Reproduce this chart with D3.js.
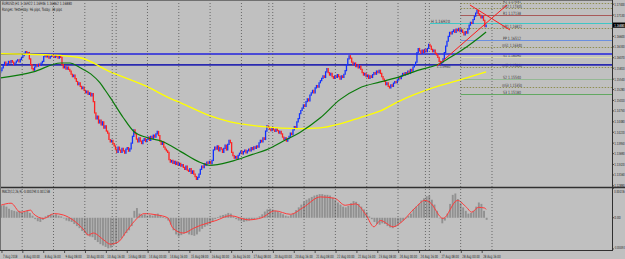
<!DOCTYPE html>
<html><head><meta charset="utf-8">
<script src="https://cdn.jsdelivr.net/npm/d3@7"></script>
<style>
html,body{margin:0;padding:0;background:#c0c0c0;overflow:hidden}
svg{display:block}
text{font-family:"DejaVu Sans",sans-serif}
</style>
</head><body><svg id="c" width="625" height="259"></svg>
<script>
// ---------- DATA ----------
const closes = [
1.1575,1.1582,1.1590,1.1596,1.1588,1.1592,1.1598,1.1594,1.1600,1.1596,1.1590,1.1594,1.1599,1.1602,1.1597,1.1603,1.1608,
1.1612,1.1618,1.1622,1.1616,1.1620,1.1604,1.1590,1.1580,1.1576,1.1584,1.1590,1.1586,1.1591,1.1588,1.1594,1.1598,1.1610,1.1614,
1.1609,1.1612,1.1606,1.1610,1.1615,1.1611,1.1608,1.1613,1.1610,1.1606,1.1611,1.1608,1.1590,1.1582,1.1586,1.1579,1.1584,1.1578,
1.1574,1.1566,1.1560,1.1564,1.1555,1.1548,1.1540,1.1545,1.1536,1.1530,1.1534,1.1526,1.1520,1.1524,1.1516,1.1520,1.1512,1.1518,
1.1498,1.1470,1.1455,1.1462,1.1445,1.1452,1.1440,1.1448,1.1432,1.1438,1.1425,1.1420,1.1404,1.1398,1.1402,1.1394,1.1388,1.1380,
1.1372,1.1385,1.1378,1.1372,1.1382,1.1376,1.1370,1.1380,1.1384,1.1375,1.1381,1.1395,1.1412,1.1428,1.1418,1.1405,1.1398,1.1408,
1.1400,1.1394,1.1402,1.1406,1.1399,1.1404,1.1410,1.1402,1.1412,1.1406,1.1415,1.1410,1.1418,1.1424,1.1414,1.1400,1.1392,1.1398,
1.1385,1.1380,1.1376,1.1372,1.1354,1.1348,1.1352,1.1345,1.1350,1.1342,1.1348,1.1340,1.1345,1.1338,1.1342,1.1335,1.1330,1.1338,
1.1328,1.1325,1.1332,1.1320,1.1326,1.1318,1.1312,1.1305,1.1310,1.1318,1.1330,1.1338,1.1334,1.1344,1.1340,1.1348,1.1345,1.1350,
1.1344,1.1352,1.1378,1.1385,1.1380,1.1388,1.1376,1.1384,1.1380,1.1372,1.1382,1.1390,1.1378,1.1392,1.1402,1.1396,1.1372,1.1364,
1.1358,1.1362,1.1356,1.1365,1.1370,1.1375,1.1368,1.1374,1.1378,1.1371,1.1376,1.1380,1.1376,1.1384,1.1379,1.1386,1.1382,1.1388,
1.1385,1.1396,1.1402,1.1398,1.1408,1.1404,1.1425,1.1438,1.1434,1.1430,1.1426,1.1432,1.1428,1.1424,1.1430,1.1426,1.1420,1.1424,
1.1418,1.1410,1.1404,1.1408,1.1400,1.1406,1.1412,1.1420,1.1416,1.1428,1.1436,1.1432,1.1448,1.1456,1.1468,1.1476,1.1482,1.1490,
1.1486,1.1498,1.1505,1.1500,1.1514,1.1520,1.1526,1.1520,1.1532,1.1538,1.1534,1.1545,1.1550,1.1556,1.1562,1.1558,1.1572,1.1580,
1.1570,1.1564,1.1568,1.1560,1.1556,1.1562,1.1558,1.1565,1.1560,1.1554,1.1562,1.1558,1.1566,1.1575,1.1590,1.1604,1.1612,1.1606,
1.1596,1.1590,1.1594,1.1585,1.1590,1.1582,1.1586,1.1578,1.1570,1.1564,1.1568,1.1560,1.1564,1.1556,1.1562,1.1558,1.1565,1.1570,
1.1566,1.1574,1.1570,1.1576,1.1568,1.1560,1.1554,1.1548,1.1540,1.1545,1.1536,1.1532,1.1540,1.1536,1.1544,1.1548,1.1545,1.1552,
1.1558,1.1555,1.1562,1.1568,1.1564,1.1570,1.1566,1.1574,1.1568,1.1578,1.1574,1.1584,1.1590,1.1596,1.1620,1.1630,1.1624,1.1618,
1.1626,1.1620,1.1628,1.1622,1.1630,1.1640,1.1636,1.1628,1.1622,1.1626,1.1618,1.1614,1.1608,1.1598,1.1592,1.1596,1.1604,1.1620,
1.1636,1.1648,1.1660,1.1670,1.1666,1.1672,1.1676,1.1670,1.1678,1.1674,1.1680,1.1672,1.1676,1.1670,1.1664,1.1672,1.1668,1.1678,
1.1688,1.1695,1.1692,1.1702,1.1710,1.1718,1.1725,1.1716,1.1712,1.1706,1.1710,1.1700,1.1684,1.1688
];
const firstOpen = 1.1570;

const greenBars = [0,25,46,53,61,69,76,80,84,94,102,112,124,138,153,160,176,193,204,219,229,245,260,275,291,306,321,334,344,357,367,372];
const greenVals = [1.1557,1.1572,1.1594,1.1594,1.1582,1.1567,1.1545,1.1527,1.1508,1.1458,1.1424,1.1409,1.1399,1.1374,1.1347,1.1340,
                   1.1349,1.1367,1.1379,1.1404,1.1421,1.1458,1.1503,1.1532,1.1547,1.1560,1.1577,1.1589,1.1607,1.1634,1.1658,1.1671];
const yellowBars = [0,38,61,84,111,132,138,158,176,201,229,245,260,275,291,306,331,352,372];
const yellowVals = [1.1617,1.1614,1.1607,1.1572,1.1537,1.1503,1.1495,1.1466,1.1448,1.1436,1.1431,1.1433,1.1443,1.1458,1.1475,1.1500,1.1532,1.1552,1.1572];

// MACD main (histogram), one value per pair of hourly bars
const macdHist = [
0.0017,0.0018,0.0016,0.0013,0.0011,0.0010,0.0009,0.0010,0.0008,0.0009,0.0010,0.0007,0.0003,-0.0002,-0.0005,-0.0006,-0.0003,0.0002,
0.0004,0.0005,0.0004,0.0005,0.0003,0.0002,-0.0001,-0.0004,-0.0005,-0.0006,-0.0009,-0.0012,-0.0015,-0.0019,-0.0022,-0.0025,-0.0027,
-0.0028,-0.0032,-0.0035,-0.0038,-0.0040,-0.0042,-0.0044,-0.0043,-0.0040,-0.0037,-0.0034,-0.0030,-0.0026,-0.0022,-0.0018,-0.0012,
0.0010,0.0014,0.0006,0.0004,0.0005,0.0003,0.0004,0.0003,0.0005,0.0006,0.0004,0.0001,-0.0001,-0.0004,-0.0010,-0.0018,-0.0024,-0.0027,
-0.0025,-0.0023,-0.0022,-0.0024,-0.0025,-0.0026,-0.0024,-0.0020,-0.0016,-0.0013,-0.0011,-0.0009,-0.0006,-0.0002,0.0001,0.0003,0.0004,
0.0005,0.0007,0.0006,0.0002,-0.0002,-0.0004,-0.0005,-0.0006,-0.0005,-0.0004,-0.0003,-0.0002,-0.0001,0.0002,0.0005,0.0009,0.0012,
0.0013,0.0012,0.0010,0.0009,0.0007,0.0005,0.0003,0.0002,0.0004,0.0007,0.0011,0.0015,0.0019,0.0023,0.0026,0.0028,0.0030,0.0032,
0.0033,0.0034,0.0034,0.0033,0.0033,0.0032,0.0029,0.0026,0.0022,0.0019,0.0016,0.0015,0.0017,0.0021,0.0024,0.0023,0.0020,0.0016,
0.0012,0.0008,0.0002,-0.0002,-0.0006,-0.0009,-0.0010,-0.0008,-0.0009,-0.0012,-0.0014,-0.0015,-0.0013,-0.0010,-0.0007,-0.0004,
-0.0001,0.0003,0.0006,0.0012,0.0016,0.0020,0.0025,0.0028,0.0031,0.0032,0.0026,0.0019,0.0010,0.0000,-0.0008,-0.0004,0.0006,0.0020,
0.0033,0.0035,0.0027,0.0021,0.0015,0.0010,0.0006,0.0007,0.0010,0.0016,0.0022,0.0020,0.0010,-0.0003
];
const signalBars = [0,8,15,23,25,33,41,48,56,64,67,71,79,84,90,97,105,110,120,128,132,140,148,153,165,176,190,200,210,222,232,245,
                    256,264,272,280,286,291,301,306,318,325,329,339,350,357,361,366,371,372];
const signalVals = [0.0018,0.0021,0.0008,0.0011,0.0006,-0.0001,0.0006,0.0004,-0.0004,-0.0018,-0.0025,-0.0022,-0.0032,-0.0038,-0.0035,
                    -0.0018,0.0000,0.0006,0.0004,0.0000,-0.0015,-0.0022,-0.0015,-0.0011,-0.0004,0.0003,-0.0003,0.0000,0.0010,0.0005,
                    0.0015,0.0030,0.0028,0.0018,0.0020,0.0004,-0.0013,-0.0004,-0.0013,-0.0008,0.0015,0.0025,0.0022,-0.0001,0.0025,
                    0.0015,0.0008,0.0015,0.0014,0.0012];

const daySeparators = [17,41,65,86,89,113,137,161,185,206,209,233,257,281,305,326,329,353,377];
const timeBars = [1,17,33,49,65,81,97,113,129,145,161,177,193,209,225,241,257,273,289,305,321,337,353,369];
const timeLabels = ["7 Aug 2018","8 Aug 00:00","8 Aug 16:00","9 Aug 08:00","10 Aug 00:00","10 Aug 16:00","13 Aug 08:00",
  "14 Aug 00:00","14 Aug 16:00","15 Aug 08:00","16 Aug 00:00","16 Aug 16:00","17 Aug 08:00","20 Aug 00:00","20 Aug 16:00",
  "21 Aug 08:00","22 Aug 00:00","22 Aug 16:00","23 Aug 08:00","24 Aug 00:00","24 Aug 16:00","27 Aug 08:00","28 Aug 00:00","28 Aug 16:00"];
const priceTicks = [1.1740,1.1713,1.1687,1.1660,1.1634,1.1607,1.1581,1.1554,1.1528,1.1501,1.1475,1.1448,1.1422,1.1395,1.1369,1.1342,1.1316,1.1289];
const macdTicks = [0.004236,0.0,-0.004493];
const macdTickLabels = ["0.004236","0.00","-0.004493"];

const pivotNames = ["R2","mR2","R1","mR1","PP","mS1","S1","mS2","S2","mS3","S3"];
const pivotVals  = [1.17431,1.17305,1.17138,1.16812,1.16512,1.16340,1.16090,1.15840,1.15540,1.15350,1.15180];
const pivotStartBar = 353;
const blueLevels = [1.16165,1.15893];
const yHighBar = 329, yHighVal = 1.16920;
const yLowBar = 334, yLowVal = 1.15960;
const trendUp = [[334.4,1.1587],[388.0,1.1738]];
const trendDown = [[359.6,1.1738],[390.3,1.1676]];
const titleLine = "EURUSD,H1  1.16922 1.16946 1.16862 1.16880";
const rangeLine = "Ranges: Yesterday: 96 pips, Today: 38 pips";
const macdTitle = "MACD(12,26,9) -0.000294 0.001238";
const lastPrice = closes[closes.length-1];

// ---------- DRAW ----------
const svg = d3.select('#c');
const R = 612;
const xs = d3.scaleLinear().domain([0,100]).range([0.65,131.15]);
const ys = d3.scaleLinear().domain([1.12886,1.17504]).range([186,0]);
const ym = d3.scaleLinear().domain([-0.0045,0.0040]).range([249,190]);

svg.append('rect').attr('width',625).attr('height',259).attr('fill','#c0c0c0');
const defs = svg.append('defs');
defs.append('clipPath').attr('id','cm').append('rect').attr('x',0).attr('y',0).attr('width',R).attr('height',187);
defs.append('clipPath').attr('id','cd').append('rect').attr('x',0).attr('y',188).attr('width',R).attr('height',62);

const main = svg.append('g').attr('clip-path','url(#cm)');
const sub = svg.append('g').attr('clip-path','url(#cd)');

// period separators
svg.append('g').selectAll('line').data(daySeparators).join('line')
  .attr('x1',d=>xs(d)-0.65).attr('x2',d=>xs(d)-0.65).attr('y1',0).attr('y2',250)
  .attr('stroke','#505050').attr('stroke-width',0.8).attr('stroke-dasharray','1,2');

// pivot lines
const pivotStyle = n => n.startsWith('m') || n==='R2' ? {c:'#8f8f52',d:'1.5,1.5',w:1}
  : n==='R1' ? {c:'#a85a5a',d:null,w:1}
  : n==='PP' ? {c:'#6a8fe0',d:null,w:1}
  : n==='S1' ? {c:'#dcdca8',d:null,w:1}
  : n==='S2' ? {c:'#94b894',d:null,w:1.2}
  : {c:'#62a862',d:null,w:1.2};
pivotNames.forEach((n,i)=>{
  const s = pivotStyle(n), y = Math.round(ys(pivotVals[i]))+0.5;
  main.append('line').attr('x1',xs(pivotStartBar)-0.65).attr('x2',R).attr('y1',y).attr('y2',y)
    .attr('stroke',s.c).attr('stroke-width',s.w).attr('stroke-dasharray',s.d);
  main.append('text').attr('x',512).attr('y',y-1).attr('text-anchor','middle')
    .attr('font-size',4.4).attr('fill','#3a3a3a').attr('textLength',n.length>2?20:18).attr('lengthAdjust','spacingAndGlyphs')
    .text(n+' '+pivotVals[i].toFixed(5));
});
// yesterday high (cyan) and low label
{
  const y = ys(yHighVal);
  main.append('line').attr('x1',xs(yHighBar)).attr('x2',R).attr('y1',y).attr('y2',y).attr('stroke','#3ec6c6').attr('stroke-width',1.2);
  main.append('text').attr('x',xs(yHighBar)+1).attr('y',y-1).attr('font-size',4.4).attr('fill','#3a3a3a')
    .attr('textLength',19).attr('lengthAdjust','spacingAndGlyphs').text('H '+yHighVal.toFixed(5));
  main.append('text').attr('x',xs(yLowBar)).attr('y',ys(yLowVal)+6).attr('font-size',4.4).attr('fill','#3a3a3a')
    .attr('textLength',14).attr('lengthAdjust','spacingAndGlyphs').text(yLowVal.toFixed(5));
}
// blue horizontal levels
blueLevels.forEach((v,i)=>{
  main.append('line').attr('x1',0).attr('x2',R).attr('y1',ys(v)).attr('y2',ys(v))
    .attr('stroke',i===0?'#4a4ad6':'#2a2ab0').attr('stroke-width',i===0?2:1.6);
});

// price bars
main.append('g').selectAll('line').data(closes).join('line')
  .attr('x1',(d,i)=>xs(i)).attr('x2',(d,i)=>xs(i))
  .attr('y1',(d,i)=>{const o=i?closes[i-1]:firstOpen; return ys(Math.max(o,d))-0.6;})
  .attr('y2',(d,i)=>{const o=i?closes[i-1]:firstOpen; return ys(Math.min(o,d))+0.6;})
  .attr('stroke',(d,i)=>{const o=i?closes[i-1]:firstOpen; return d>=o?'#1030ff':'#ff2020';})
  .attr('stroke-width',1.3);

// moving averages
const ln = d3.line().curve(d3.curveMonotoneX);
main.append('path').attr('d',ln(yellowBars.map((b,i)=>[xs(b),ys(yellowVals[i])])))
  .attr('fill','none').attr('stroke','#ffff00').attr('stroke-width',1.3);
main.append('path').attr('d',ln(greenBars.map((b,i)=>[xs(b),ys(greenVals[i])])))
  .attr('fill','none').attr('stroke','#0a7a0a').attr('stroke-width',1.2);

// trend lines
[trendUp,trendDown].forEach(t=>{
  main.append('line').attr('x1',xs(t[0][0])).attr('y1',ys(t[0][1])).attr('x2',xs(t[1][0])).attr('y2',ys(t[1][1]))
    .attr('stroke','#ff1a1a').attr('stroke-width',1);
});

// title text
svg.append('text').attr('x',2).attr('y',5).attr('font-size',4.4).attr('fill','#202020')
  .attr('textLength',70).attr('lengthAdjust','spacingAndGlyphs').text(titleLine);
svg.append('text').attr('x',2).attr('y',11).attr('font-size',4.4).attr('fill','#202020')
  .attr('textLength',60).attr('lengthAdjust','spacingAndGlyphs').text(rangeLine);

// MACD
const z = ym(0);
sub.append('g').selectAll('rect').data(macdHist).join('rect')
  .attr('x',(d,k)=>xs(2*k)-0.4).attr('width',1.9)
  .attr('y',d=>Math.min(ym(d),z)).attr('height',d=>Math.max(0.5,Math.abs(ym(d)-z)))
  .attr('fill','#919191');
sub.append('path').attr('d',ln(signalBars.map((b,i)=>[xs(b),ym(signalVals[i])])))
  .attr('fill','none').attr('stroke','#ff3a3a').attr('stroke-width',1);
svg.append('text').attr('x',2).attr('y',193).attr('font-size',4.4).attr('fill','#202020')
  .attr('textLength',48).attr('lengthAdjust','spacingAndGlyphs').text(macdTitle);

// frames
const fr = svg.append('g').attr('stroke','#303030').attr('fill','none');
fr.append('line').attr('x1',R+0.5).attr('x2',R+0.5).attr('y1',0).attr('y2',251);
fr.append('line').attr('x1',0).attr('x2',625).attr('y1',187.5).attr('y2',187.5).attr('stroke-width',1.4);
fr.append('line').attr('x1',0).attr('x2',R+1).attr('y1',250.5).attr('y2',250.5);
fr.append('line').attr('x1',0).attr('x2',R).attr('y1',0.5).attr('y2',0.5).attr('stroke','#707070');
fr.append('line').attr('x1',0.5).attr('x2',0.5).attr('y1',0).attr('y2',250).attr('stroke','#707070');

// right price axis
const boxY = ys(lastPrice);
const pt = svg.append('g');
priceTicks.filter(v=>Math.abs(ys(v)-boxY)>5).forEach(v=>{
  const y = ys(v);
  pt.append('line').attr('x1',R).attr('x2',R+2).attr('y1',y).attr('y2',y).attr('stroke','#303030').attr('stroke-width',0.8);
  pt.append('text').attr('x',R+2.3).attr('y',y+1.5).attr('font-size',4.2).attr('fill','#202020')
    .attr('textLength',10.4).attr('lengthAdjust','spacingAndGlyphs').text(v.toFixed(5));
});
pt.append('rect').attr('x',R+1).attr('y',boxY-2.6).attr('width',12).attr('height',5.2).attr('fill','#000');
pt.append('text').attr('x',R+2.3).attr('y',boxY+1.5).attr('font-size',4.2).attr('fill','#fff')
  .attr('textLength',10.4).attr('lengthAdjust','spacingAndGlyphs').text(lastPrice.toFixed(5));
const macdLabelY = [192.5, ym(0)+1.5, 248.6];
macdTicks.forEach((v,i)=>{
  const y = ym(v);
  pt.append('line').attr('x1',R).attr('x2',R+2).attr('y1',y).attr('y2',y).attr('stroke','#303030').attr('stroke-width',0.8);
  pt.append('text').attr('x',R+2.3).attr('y',macdLabelY[i]).attr('font-size',4.2).attr('fill','#202020')
    .attr('textLength',Math.min(10.4,macdTickLabels[i].length*1.6)).attr('lengthAdjust','spacingAndGlyphs').text(macdTickLabels[i]);
});

// time axis
const ta = svg.append('g');
timeBars.forEach((b,i)=>{
  const x = xs(b);
  ta.append('line').attr('x1',x).attr('x2',x).attr('y1',250).attr('y2',253).attr('stroke','#303030').attr('stroke-width',0.8);
  ta.append('text').attr('x',x+1).attr('y',257.5).attr('font-size',4.4).attr('fill','#202020')
    .attr('textLength',timeLabels[i].length*1.45).attr('lengthAdjust','spacingAndGlyphs').text(timeLabels[i]);
});
</script>
</body></html>
